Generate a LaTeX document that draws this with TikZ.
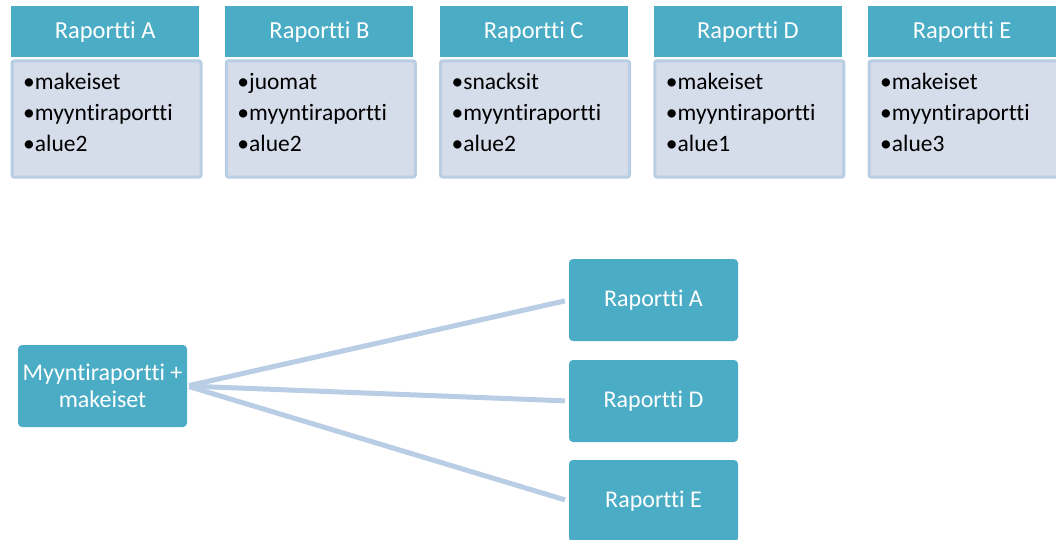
\documentclass[tikz,border=0pt]{standalone}
\usepackage{fontspec}
\setmainfont{Carlito}[Ligatures={NoCommon}]
\definecolor{teal}{HTML}{4BACC6}
\definecolor{paleblue}{HTML}{D5DCEA}
\definecolor{edgeblue}{HTML}{B9CDE5}
\begin{document}
\begin{tikzpicture}[x=1pt,y=-1pt,
  header/.style={fill=teal, text=white, inner sep=0pt, minimum width=188pt, minimum height=51pt,
    anchor=north west, font=\fontsize{24.5}{28}\selectfont},
  listbox/.style={fill=paleblue, draw=edgeblue, line width=3pt, rounded corners=2pt, inner sep=0pt,
    minimum width=189pt, minimum height=116pt, anchor=north west},
  item/.style={anchor=base west, inner sep=0pt, text=black, font=\fontsize{23.5}{26}\selectfont},
  tealbox/.style={fill=teal, text=white, rounded corners=4pt, inner sep=0pt, minimum width=169pt,
    minimum height=82pt, align=center, font=\fontsize{24}{27}\selectfont},
  link/.style={draw=edgeblue, line width=5pt, shorten <=2pt, shorten >=4pt}]
\useasboundingbox (0,0) rectangle (1056,540);

% report cards along the top
\foreach \n/\i/\a/\b/\c in {A/0/makeiset/myyntiraportti/alue2,
                            B/1/juomat/myyntiraportti/alue2,
                            C/2/snacksit/myyntiraportti/alue2,
                            D/3/makeiset/myyntiraportti/alue1,
                            E/4/makeiset/myyntiraportti/alue3}{
  \pgfmathsetmacro{\x}{11+214.25*\i}
  \node[header] (h\n) at (\x,6) {Raportti \n};
  \node[listbox] (l\n) at (\x-0.5,59.5) {};
  \node[item] (l\n1) at (\x+12,90) {•\a};
  \node[item] (l\n2) at (\x+12,121) {•\b};
  \node[item] (l\n3) at (\x+12,152) {•\c};
}

% query and matching reports
\node[tealbox] (q) at (102.5,386) {Myyntiraportti +\\makeiset};
\node[tealbox] (rA) at (653.5,300) {Raportti A};
\node[tealbox] (rD) at (653.5,401) {Raportti D};
\node[tealbox] (rE) at (653.5,501) {Raportti E};

\draw[link] (q.east) -- (rA.west);
\draw[link] (q.east) -- (rD.west);
\draw[link] (q.east) -- (rE.west);
\end{tikzpicture}
\end{document}
